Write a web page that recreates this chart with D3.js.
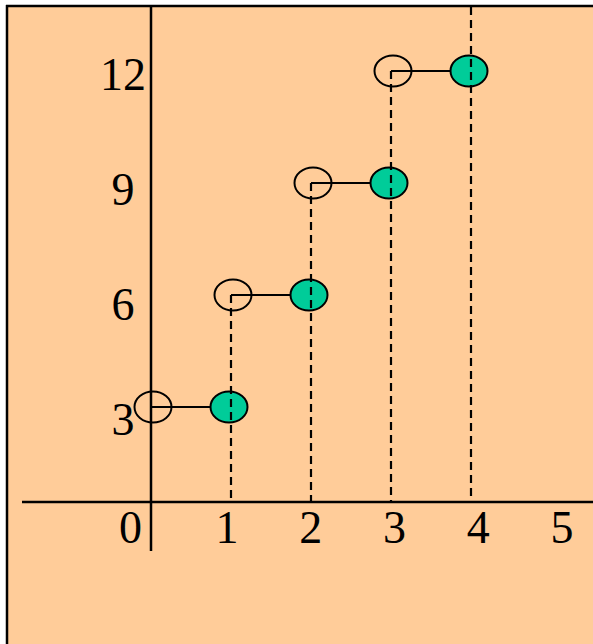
<!DOCTYPE html>
<html>
<head>
<meta charset="utf-8">
<script src="https://cdn.jsdelivr.net/npm/d3@7"></script>
<style>
  html, body { margin: 0; padding: 0; background: #ffffff; }
  svg { display: block; }
  text { font-family: "Liberation Serif", "Times New Roman", serif; fill: #000; }
</style>
</head>
<body>
<svg id="chart" width="593" height="644"></svg>
<script>
// Step function: value jumps by 3 at each whole number
const stepStarts = [0, 1, 2, 3];      // left end of each step (open circle)
const stepEnds   = [1, 2, 3, 4];      // right end of each step (filled circle)
const stepValues = [3, 6, 9, 12];     // height of each step
const xTickLabels = [0, 1, 2, 3, 4, 5];
const yTickLabels = [3, 6, 9, 12];

const W = 593, H = 644;
const svg = d3.select("#chart");

// panel background with its frame
svg.append("rect").attr("x", 7).attr("y", 6).attr("width", W).attr("height", H)
  .attr("fill", "#FFCC99");
svg.append("line").attr("x1", 7).attr("x2", 7).attr("y1", 5).attr("y2", H)
  .attr("stroke", "#000").attr("stroke-width", 2.5);
svg.append("line").attr("x1", 6).attr("x2", W).attr("y1", 6).attr("y2", 6)
  .attr("stroke", "#000").attr("stroke-width", 2.5);

// scales
const x = d3.scaleLinear().domain([0, 5]).range([151, 551]);
const y = d3.scaleLinear().domain([3, 12]).range([407, 71]);
const axisY = 502; // pixel row of the horizontal axis
const xLabel = d3.scaleLinear().domain([1, 5]).range([227, 562]);
const yLabel = d3.scaleLinear().domain([3, 12]).range([435, 90]);

// axes
svg.append("line").attr("x1", 22).attr("x2", W).attr("y1", axisY).attr("y2", axisY)
  .attr("stroke", "#000").attr("stroke-width", 2.5);
svg.append("line").attr("x1", x(0)).attr("x2", x(0)).attr("y1", 7).attr("y2", 551)
  .attr("stroke", "#000").attr("stroke-width", 2.5);

// dashed drop lines at each jump
const drops = svg.append("g");
stepEnds.forEach((xe, i) => {
  const top = i + 1 < stepValues.length ? y(stepValues[i + 1]) : 7;
  drops.append("line")
    .attr("x1", x(xe)).attr("x2", x(xe))
    .attr("y1", top).attr("y2", axisY)
    .attr("stroke", "#000").attr("stroke-width", 2.2)
    .attr("stroke-dasharray", "8,5");
});

// horizontal step segments
svg.append("g").selectAll("line").data(stepValues).join("line")
  .attr("x1", (d, i) => x(stepStarts[i]))
  .attr("x2", (d, i) => x(stepEnds[i]))
  .attr("y1", d => y(d)).attr("y2", d => y(d))
  .attr("stroke", "#000").attr("stroke-width", 2.2);

// open circles at step starts
svg.append("g").selectAll("ellipse").data(stepValues).join("ellipse")
  .attr("cx", (d, i) => x(stepStarts[i]) + 2)
  .attr("cy", d => y(d))
  .attr("rx", 18.5).attr("ry", 15.5)
  .attr("fill", "none").attr("stroke", "#000").attr("stroke-width", 2);

// filled circles at step ends
svg.append("g").selectAll("ellipse").data(stepValues).join("ellipse")
  .attr("cx", (d, i) => x(stepEnds[i]) - 2)
  .attr("cy", d => y(d))
  .attr("rx", 18.5).attr("ry", 15.5)
  .attr("fill", "#00CC99").attr("stroke", "#000").attr("stroke-width", 2);

// redraw the drop lines over the filled circles
drops.raise();

// x tick labels
svg.append("g").selectAll("text").data(xTickLabels).join("text")
  .attr("x", d => d === 0 ? 142 : xLabel(d))
  .attr("y", 543)
  .attr("text-anchor", d => d === 0 ? "end" : "middle")
  .attr("font-size", 46)
  .text(d => d);

// y tick labels
svg.append("g").selectAll("text").data(yTickLabels).join("text")
  .attr("x", 123)
  .attr("y", d => yLabel(d))
  .attr("text-anchor", "middle")
  .attr("font-size", 46)
  .text(d => d);
</script>
</body>
</html>
